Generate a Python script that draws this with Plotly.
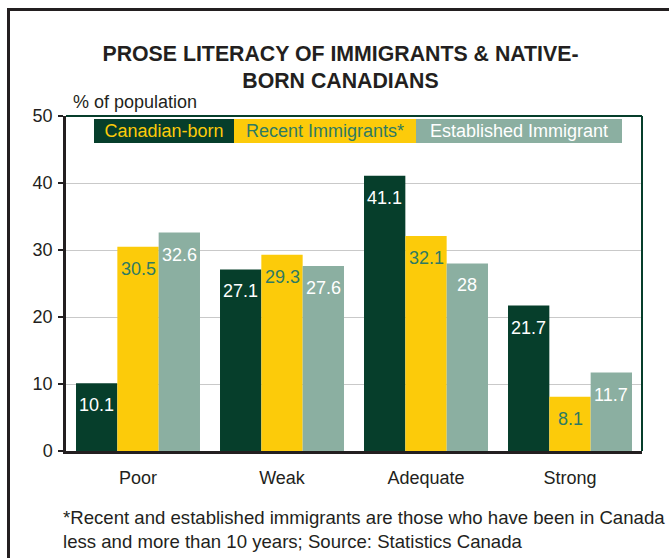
import plotly.graph_objects as go

# Prose literacy levels (% of population) by group
categories = ["Poor", "Weak", "Adequate", "Strong"]
canadian_born = [10.1, 27.1, 41.1, 21.7]
recent_immigrants = [30.5, 29.3, 32.1, 8.1]
established_immigrants = [32.6, 27.6, 28, 11.7]
series_names = ["Canadian-born", "Recent Immigrants*", "Established Immigrant"]
y_ticks = [0, 10, 20, 30, 40, 50]

DARK = "#063E2B"
YELLOW = "#FCCB0A"
SAGE = "#8BAFA1"
TEAL_TEXT = "#2F7A63"
INK = "#231F20"
FONT = "Liberation Sans, Arial, sans-serif"

W, H = 669, 558
ML, MR, MT, MB = 66, 27, 116, 107
plot_w = W - ML - MR
plot_h = H - MT - MB

def px_x(px):
    return (px - ML) / plot_w

def px_y(py):
    return (H - MB - py) / plot_h

series = [canadian_born, recent_immigrants, established_immigrants]
bar_colors = [DARK, YELLOW, SAGE]
label_colors = ["white", TEAL_TEXT, "white"]
bar_w = 0.287
xs = list(range(len(categories)))

fig = go.Figure()
annotations = []
for k, (vals, col, lcol, name) in enumerate(zip(series, bar_colors, label_colors, series_names)):
    off = (k - 1.5) * bar_w
    fig.add_trace(go.Bar(
        x=xs, y=vals, name=name, width=bar_w, offset=off,
        marker=dict(color=col, line=dict(width=0)),
        showlegend=False,
    ))
    for i, v in enumerate(vals):
        annotations.append(dict(
            x=i + off + bar_w / 2, y=v, xref="x", yref="y",
            text=f"{v:g}", showarrow=False, yanchor="middle", yshift=-22,
            font=dict(family=FONT, size=18, color=lcol),
        ))

# Colour-block legend
legend_boxes = [(94, 140), (234, 182), (416, 206)]
legend_text_colors = [YELLOW, TEAL_TEXT, "white"]
for (left, width), name, bg, tc in zip(legend_boxes, series_names, bar_colors, legend_text_colors):
    annotations.append(dict(
        x=px_x(left), y=px_y(131), xref="paper", yref="paper",
        xanchor="left", yanchor="middle", showarrow=False,
        text=name, width=width, height=24, bgcolor=bg, borderpad=0,
        borderwidth=0, align="center",
        font=dict(family=FONT, size=18, color=tc),
    ))

annotations.append(dict(
    x=px_x(71), y=px_y(102), xref="paper", yref="paper",
    xanchor="left", yanchor="middle", showarrow=False,
    text="% of population", font=dict(family=FONT, size=18, color=INK),
))
annotations.append(dict(
    x=px_x(61), y=px_y(529), xref="paper", yref="paper",
    xanchor="left", yanchor="middle", showarrow=False, align="left",
    text="*Recent and established immigrants are those who have been in Canada<br>"
         "less and more than 10 years; Source: Statistics Canada",
    font=dict(family=FONT, size=18.6, color=INK),
))

shapes = [
    # outer frame
    dict(type="rect", xref="paper", yref="paper",
         x0=px_x(8.5), x1=px_x(700), y0=px_y(600), y1=px_y(9.5),
         line=dict(color=INK, width=3), fillcolor="rgba(0,0,0,0)", layer="above"),
    # plot area top and right borders
    dict(type="line", xref="paper", yref="paper", x0=0, x1=1, y0=1, y1=1,
         line=dict(color=DARK, width=2)),
    dict(type="line", xref="paper", yref="paper", x0=1, x1=1, y0=0, y1=1,
         line=dict(color=DARK, width=2)),
]

fig.update_layout(
    width=W, height=H,
    margin=dict(l=ML, r=MR, t=MT, b=MB),
    paper_bgcolor="white", plot_bgcolor="white",
    barmode="overlay",
    font=dict(family=FONT, size=18, color=INK),
    title=dict(
        text="<b>PROSE LITERACY OF IMMIGRANTS & NATIVE-<br>BORN CANADIANS</b>",
        x=340.5 / W, xref="container", xanchor="center",
        y=1 - 60.5 / H, yref="container", yanchor="middle",
        font=dict(family=FONT, size=21.3, color=INK),
    ),
    xaxis=dict(
        range=[-0.5, len(categories) - 0.5],
        tickvals=xs, ticktext=categories, ticks="",
        showline=True, linecolor=INK, linewidth=3,
        showgrid=False, zeroline=False,
        tickfont=dict(family=FONT, size=18, color=INK),
        ticklabelstandoff=8,
    ),
    yaxis=dict(
        range=[0, 50], tickvals=y_ticks,
        showline=True, linecolor=INK, linewidth=2.5,
        ticks="outside", ticklen=5, tickwidth=2, tickcolor=INK,
        showgrid=True, gridcolor="#C9C9C9", gridwidth=1,
        zeroline=False,
        tickfont=dict(family=FONT, size=18, color=INK),
        ticklabelstandoff=2,
    ),
    annotations=annotations,
    shapes=shapes,
)

fig.write_html("out.html")
